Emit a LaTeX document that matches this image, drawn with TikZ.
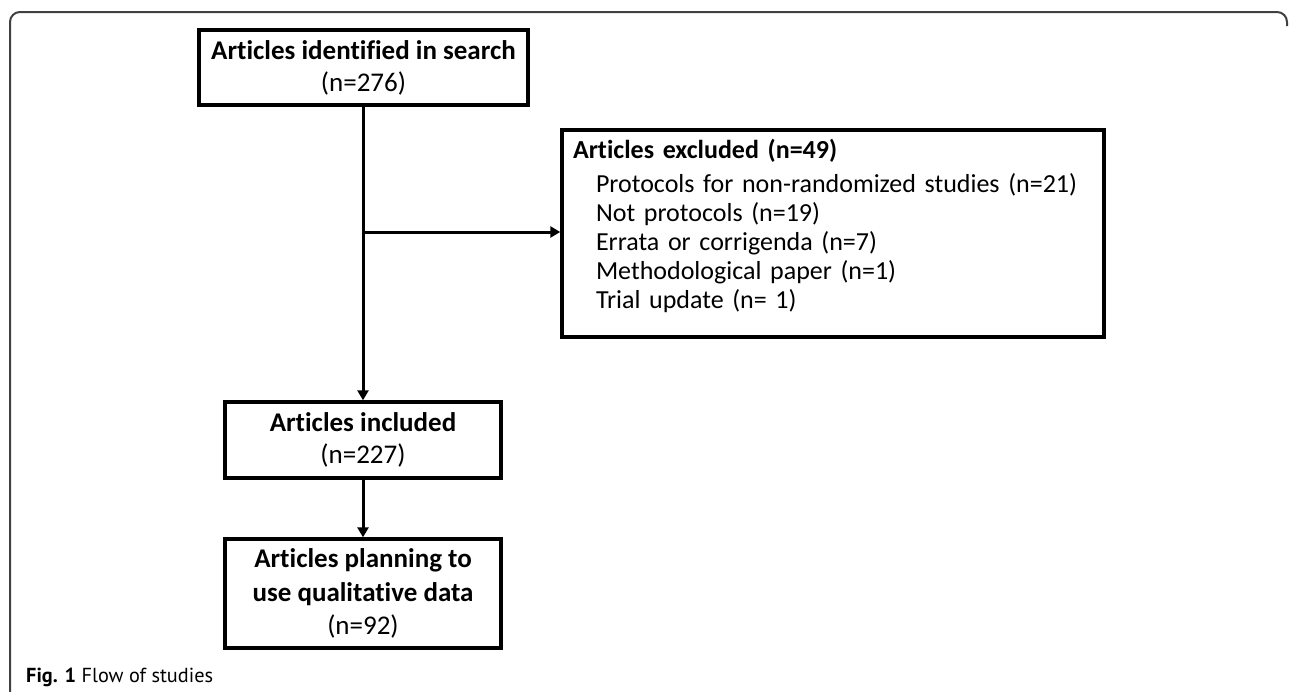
\documentclass[tikz,border=0pt]{standalone}
\usepackage{fontspec}
\setmainfont{Carlito}[Ligatures=NoCommon,RawFeature={-calt}]
\newfontfamily\capfont{PT Sans}
\usetikzlibrary{arrows.meta}
\begin{document}
\begin{tikzpicture}[x=1pt,y=-1pt,
  box/.style={draw=black, line width=3.4pt, rectangle, inner sep=0pt},
  flow/.style={line width=3pt, -{Triangle[length=10pt,width=11pt]}},
  frame/.style={draw=black!75, line width=2pt, rounded corners=10pt}]
\useasboundingbox (0,0) rectangle (1290,691);
% outer frame
\draw[frame] (10,700) -- (10,12) -- (1287,12) -- (1287,26);
% boxes
\node[box, minimum width=329pt, minimum height=75pt, align=center,
      font=\fontsize{27}{32}\selectfont] (search) at (363.5,67.5)
  {\textbf{Articles identified in search}\\(n=276)};
\node[box, minimum width=542pt, minimum height=207pt, align=left,
      text width=520pt, inner xsep=11pt, inner ysep=0pt,
      font=\fontsize{26}{29}\selectfont] (excl) at (833,233.5)
  {\textbf{Articles excluded (n=49)}\\[5pt]
   \hspace*{23pt}Protocols for non-randomized studies (n=21)\\
   \hspace*{23pt}Not protocols (n=19)\\
   \hspace*{23pt}Errata or corrigenda (n=7)\\
   \hspace*{23pt}Methodological paper (n=1)\\
   \hspace*{23pt}Trial update (n=~1)\rule[-20pt]{0pt}{20pt}};
\node[box, minimum width=276pt, minimum height=76pt, align=center,
      font=\fontsize{27}{32}\selectfont] (incl) at (363,440)
  {\textbf{Articles included}\\(n=227)};
\node[box, minimum width=276pt, minimum height=109pt, align=center,
      font=\fontsize{27}{33.5}\selectfont] (qual) at (363,593.5)
  {\textbf{Articles planning to}\\\textbf{use qualitative data}\\(n=92)};
% connectors
\coordinate (branch) at (363,232);
\draw[flow] (search.south -| incl.north) -- (incl.north);
\draw[flow] (branch) -- (branch -| excl.west);
\draw[flow] (incl.south) -- (qual.north);
% caption
\node[anchor=base west, inner sep=0pt, font=\capfont\fontsize{20.3}{23}\selectfont] (cap) at (26,682)
  {\textbf{Fig. 1} Flow of studies};
\end{tikzpicture}
\end{document}
